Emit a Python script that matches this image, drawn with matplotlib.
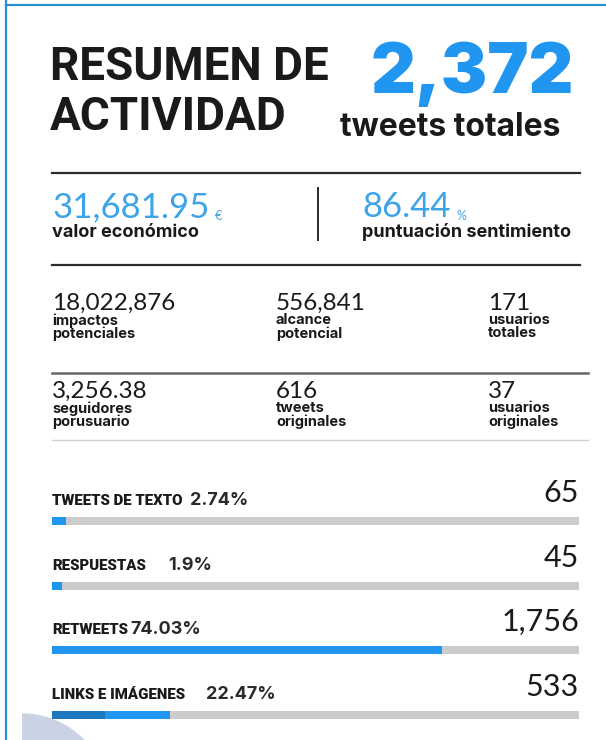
import matplotlib.pyplot as plt
from matplotlib.patches import Circle, Rectangle

W, H = 606, 740

# header
title_lines = ["RESUMEN DE", "ACTIVIDAD"]
total_tweets = "2,372"
total_label = "tweets totales"

# headline metrics
money_value = "31,681.95"
money_unit = "€"
money_label = "valor económico"
sentiment_value = "86.44"
sentiment_unit = "%"
sentiment_label = "puntuación sentimiento"

# grid of small stats (row by row)
stat_values = [["18,022,876", "556,841", "171"],
               ["3,256.38", "616", "37"]]
stat_labels = [["impactos\npotenciales", "alcance\npotencial", "usuarios\ntotales"],
               ["seguidores\nporusuario", "tweets\noriginales", "usuarios\noriginales"]]

# tweet types
type_names = ["TWEETS DE TEXTO", "RESPUESTAS", "RETWEETS", "LINKS E IMÁGENES"]
type_pct = [2.74, 1.9, 74.03, 22.47]
type_counts = ["65", "45", "1,756", "533"]
dark_share = [0, 0, 0, 10.1]   # darker first segment on the last bar

BLUE = "#2196f0"
LIGHT_BLUE = "#3ea4e8"
DARK_BLUE = "#1b78bd"
GREY = "#cccccc"
INK = "#1a1a1a"

fig = plt.figure(figsize=(W / 100, H / 100), dpi=100)
ax = fig.add_axes([0, 0, 1, 1])
ax.set_xlim(0, W)
ax.set_ylim(H, 0)
ax.axis("off")

# frame and corner decoration
ax.plot([6, 6], [0, H], color="#2a8fd0", lw=1.6)
ax.plot([6, W], [5, 5], color="#2a8fd0", lw=1.6)
blob = Circle((22, 800), 86, color="#c9d3e3", zorder=0)
ax.add_patch(blob)
clip = Rectangle((22, 690), 200, 60, transform=ax.transData)
blob.set_clip_path(clip)

# title
for i, line in enumerate(title_lines):
    ax.text(50, 80 + i * 50, line, fontsize=33, fontfamily="Roboto",
            fontweight="bold", color=INK, va="baseline")
ax.text(472, 93, total_tweets, fontsize=50, fontfamily="Inter",
        fontweight="black", color=BLUE, va="baseline", ha="center")
ax.text(450, 136, total_label, fontsize=23, fontfamily="Inter",
        fontweight="bold", color=INK, va="baseline", ha="center")

# separators
ax.plot([52, 580], [173, 173], color="#2b2b2b", lw=1.6)
ax.plot([52, 580], [265, 265], color="#2b2b2b", lw=1.6)
ax.plot([52, 588], [373, 373], color="#666666", lw=1.8)
ax.plot([52, 588], [440, 440], color="#d0d0d0", lw=1.0)
ax.plot([318, 318], [188, 240], color="#2b2b2b", lw=1.4)

# headline metrics
for x, val, unit, lab in [(52, money_value, money_unit, money_label),
                          (362, sentiment_value, sentiment_unit, sentiment_label)]:
    t = ax.text(x, 217, val, fontsize=25, fontfamily="Lato", fontweight="normal",
                color=LIGHT_BLUE, va="baseline")
    ax.annotate(unit, xy=(1, 0), xycoords=t, xytext=(4, 2), textcoords="offset points",
                fontsize=9, fontfamily="Lato", color=LIGHT_BLUE, va="baseline")
    ax.text(x, 237, lab, fontsize=13, fontfamily="Inter", fontweight="bold",
            color=INK, va="baseline")

# stats grid
col_x = [52, 276, 488]
row_y = [310, 398]
for r in range(2):
    for c in range(3):
        ax.text(col_x[c], row_y[r], stat_values[r][c], fontsize=17.5, fontfamily="Lato",
                fontweight="normal", color=INK, va="baseline")
        ax.text(col_x[c], row_y[r] + 3, stat_labels[r][c], fontsize=10.5,
                fontfamily="Inter", fontweight="bold", color=INK, va="top",
                linespacing=0.95)

# bars
bar_y = [521 + i * 64.6 for i in range(len(type_names))]
pct_x = [190, 168, 130, 206]
axb = fig.add_axes([52 / W, 0, 527 / W, 1])
axb.set_xlim(0, 100)
axb.set_ylim(H, 0)
axb.axis("off")
axb.barh(bar_y, [100] * len(bar_y), height=8, color=GREY, left=0)
axb.barh(bar_y, type_pct, height=8, color=BLUE)
axb.barh(bar_y, dark_share, height=8, color=DARK_BLUE)

for i, name in enumerate(type_names):
    y = bar_y[i]
    ax.text(52, y - 16, name, fontsize=10.8, fontfamily="Roboto", fontweight="heavy",
            color=INK, va="baseline")
    ax.text(pct_x[i], y - 16, f"{type_pct[i]}%", fontsize=13, fontfamily="Inter",
            fontweight="bold", color="#2a2a2a", va="baseline")
    ax.text(579, y - 19, type_counts[i], fontsize=22, fontfamily="Lato",
            fontweight="normal", color=INK, va="baseline", ha="right")

fig.savefig("out.png", dpi=100)
